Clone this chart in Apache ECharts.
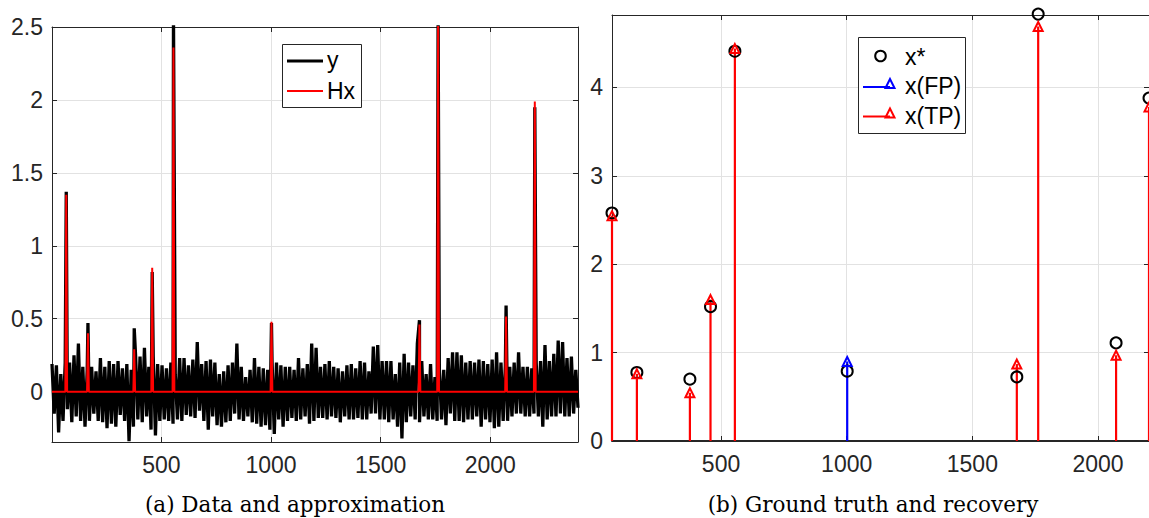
<!DOCTYPE html>
<html><head><meta charset="utf-8">
<script src="https://cdn.jsdelivr.net/npm/echarts@6/dist/echarts.min.js"></script>
<style>html,body{margin:0;padding:0;background:#fff}#c{width:1149px;height:518px}</style>
</head><body><div id="c"></div>
<script>
// ---------- data ----------
const spikePos = [66, 165, 376, 458, 555, 1002, 1677, 1762, 2072, 2203];
const yPeak    = [1.37, 0.47, 0.435, 0.82, 2.6, 0.47, 0.49, 2.6, 0.59, 1.95];
const hxPeak   = [1.35, 0.40, 0.29, 0.85, 2.36, 0.48, 0.46, 2.55, 0.515, 1.99];
// noise envelope of y, one high / one low reading per 20-sample bin
const noiseHi = [0.19,0.18,0.12,0.20,0.20,0.25,0.33,0.17,0.15,0.17,0.14,0.23,0.17,0.21,0.19,0.21,0.16,0.19,0.15,0.24,
0.24,0.30,0.17,0.24,0.19,0.18,0.16,0.20,0.12,0.23,0.23,0.18,0.22,0.34,0.19,0.21,0.22,0.20,0.12,0.14,
0.18,0.20,0.33,0.17,0.10,0.15,0.23,0.17,0.16,0.15,0.20,0.20,0.18,0.17,0.17,0.15,0.23,0.16,0.19,0.33,
0.30,0.17,0.19,0.21,0.17,0.16,0.14,0.18,0.19,0.16,0.21,0.20,0.14,0.31,0.32,0.21,0.21,0.21,0.12,0.20,
0.26,0.20,0.18,0.33,0.21,0.12,0.19,0.10,0.16,0.15,0.23,0.27,0.27,0.25,0.20,0.21,0.20,0.22,0.21,0.19,
0.22,0.27,0.20,0.18,0.17,0.20,0.27,0.17,0.17,0.16,0.20,0.21,0.32,0.21,0.26,0.35,0.34,0.23,0.24,0.15];
const noiseLo = [-0.15,-0.28,-0.20,-0.12,-0.21,-0.17,-0.20,-0.24,-0.20,-0.15,-0.20,-0.21,-0.25,-0.22,-0.24,-0.16,-0.20,-0.34,-0.24,-0.19,
-0.21,-0.17,-0.26,-0.30,-0.20,-0.19,-0.20,-0.22,-0.19,-0.20,-0.16,-0.17,-0.18,-0.13,-0.20,-0.26,-0.17,-0.23,-0.24,-0.21,
-0.20,-0.15,-0.19,-0.20,-0.17,-0.21,-0.22,-0.24,-0.23,-0.26,-0.29,-0.19,-0.24,-0.20,-0.18,-0.20,-0.19,-0.17,-0.22,-0.20,
-0.18,-0.18,-0.19,-0.17,-0.18,-0.21,-0.17,-0.19,-0.19,-0.18,-0.19,-0.19,-0.15,-0.15,-0.19,-0.19,-0.21,-0.19,-0.24,-0.32,
-0.21,-0.17,-0.19,-0.21,-0.17,-0.19,-0.19,-0.20,-0.19,-0.23,-0.15,-0.20,-0.20,-0.21,-0.19,-0.19,-0.17,-0.24,-0.19,-0.21,
-0.25,-0.24,-0.20,-0.20,-0.17,-0.15,-0.15,-0.17,-0.17,-0.15,-0.17,-0.24,-0.19,-0.17,-0.17,-0.15,-0.17,-0.17,-0.15,-0.11];
const nSamples = 2400;
const hxHalfWidth = 4;

const xStarPos = [66, 165, 376, 458, 555, 1002, 1677, 1762, 2072, 2203];
const xStarVal = [2.58, 0.775, 0.70, 1.52, 4.41, 0.79, 0.725, 4.83, 1.11, 3.88];
const tpPos = [66, 165, 376, 458, 555, 1677, 1762, 2072, 2203];
const tpVal = [2.55, 0.76, 0.546, 1.60, 4.44, 0.87, 4.69, 0.97, 3.78];
const fpPos = [1002];
const fpVal = [0.90];

const leftXTicks = [500, 1000, 1500, 2000];
const leftYTicks = [0, 0.5, 1, 1.5, 2, 2.5];
const rightXTicks = [500, 1000, 1500, 2000];
const rightYTicks = [0, 1, 2, 3, 4];
const leftXRange = [1, 2400], leftYRange = [-0.345, 2.5];
const rightXRange = [66, 2203], rightYRange = [0, 4.82];

// ---------- build series data ----------
const noiseSeq = [];
for (let k = 0; k < noiseHi.length; k++) { noiseSeq.push(noiseHi[k], noiseLo[k]); }
const step = (nSamples - 1) / (noiseSeq.length - 1);
const yData = noiseSeq.map((v, i) => [1 + i * step, v]);
spikePos.forEach((p, i) => yData.push([p, yPeak[i]]));
yData.sort((a, b) => a[0] - b[0]);

const hxData = [[1, 0]];
spikePos.forEach((p, i) => { hxData.push([p - hxHalfWidth, 0], [p, hxPeak[i]], [p + hxHalfWidth, 0]); });
hxData.push([nSamples, 0]);

const pairs = (xs, vs) => xs.map((x, i) => [x, vs[i]]);

// ---------- styling ----------
const AX = '#262626', GRIDC = '#e2e2e2', FONT = '"Liberation Sans", Arial, sans-serif';
const fmt = v => String(v);
function xAx(grid, range, ticks, pos, showLabel, lineW) {
  return {
    type: 'value', gridIndex: grid, min: range[0], max: range[1], position: pos,
    axisLine: { show: true, onZero: false, lineStyle: { color: AX, width: lineW || 1 } },
    axisTick: { show: true, inside: true, length: 5, customValues: ticks, lineStyle: { color: AX } },
    axisLabel: { show: showLabel, customValues: ticks, formatter: fmt, fontSize: 23, fontFamily: FONT, color: AX, margin: 11 },
    splitLine: { show: showLabel, lineStyle: { color: GRIDC, width: 1 } }
  };
}
function yAx(grid, range, ticks, pos, showLabel) {
  return {
    type: 'value', gridIndex: grid, min: range[0], max: range[1], position: pos,
    axisLine: { show: true, onZero: false, lineStyle: { color: AX, width: 1 } },
    axisTick: { show: true, inside: true, length: 5, customValues: ticks, lineStyle: { color: AX } },
    axisLabel: { show: showLabel, customValues: ticks, formatter: fmt, fontSize: 23, fontFamily: FONT, color: AX, margin: 9 },
    splitLine: { show: showLabel, lineStyle: { color: GRIDC, width: 1 } }
  };
}
function stem(name, xs, vs, color) {
  return {
    name, type: 'custom', xAxisIndex: 2, yAxisIndex: 2, data: pairs(xs, vs),
    encode: { x: 0, y: 1 },
    renderItem: (params, api) => {
      const p0 = api.coord([api.value(0), 0]);
      const p1 = api.coord([api.value(0), api.value(1)]);
      return { type: 'line', shape: { x1: p0[0], y1: p0[1], x2: p1[0], y2: p1[1] },
               style: { stroke: color, lineWidth: 2.2 } };
    }
  };
}
function tri(name, xs, vs, color) {
  return { name, type: 'scatter', xAxisIndex: 2, yAxisIndex: 2, data: pairs(xs, vs), clip: false,
    symbol: 'triangle', symbolSize: [9, 9],
    itemStyle: { color: 'none', borderColor: color, borderWidth: 2, opacity: 1 } };
}

const legendFont = '23px ' + FONT;
const option = {
  animation: false,
  backgroundColor: '#fff',
  grid: [
    { left: 52, top: 27, width: 526, height: 415 },
    { left: 612, top: 15, width: 538, height: 426 }
  ],
  xAxis: [
    xAx(0, leftXRange, leftXTicks, 'bottom', true),
    xAx(0, leftXRange, leftXTicks, 'top', false),
    xAx(1, rightXRange, rightXTicks, 'bottom', true, 2),
    xAx(1, rightXRange, rightXTicks, 'top', false)
  ],
  yAxis: [
    yAx(0, leftYRange, leftYTicks, 'left', true),
    yAx(0, leftYRange, leftYTicks, 'right', false),
    yAx(1, rightYRange, rightYTicks, 'left', true),
    yAx(1, rightYRange, rightYTicks, 'right', false)
  ],
  series: [
    { name: 'y', type: 'line', xAxisIndex: 0, yAxisIndex: 0, data: yData, symbol: 'none',
      lineStyle: { color: '#000', width: 3.3, join: 'miter', miterLimit: 3 }, itemStyle: { color: '#000' } },
    { name: 'Hx', type: 'line', xAxisIndex: 0, yAxisIndex: 0, data: hxData, symbol: 'none',
      lineStyle: { color: '#ff0000', width: 2 }, itemStyle: { color: '#ff0000' } },
    { name: 'x*', type: 'scatter', xAxisIndex: 2, yAxisIndex: 2, data: pairs(xStarPos, xStarVal), clip: false,
      symbol: 'circle', symbolSize: 11, itemStyle: { color: 'none', borderColor: '#000', borderWidth: 2, opacity: 1 } },
    stem('x(FP)', fpPos, fpVal, '#0000ff'),
    stem('x(TP)', tpPos, tpVal, '#ff0000'),
    tri('x(FP)', fpPos, fpVal, '#0000ff'),
    tri('x(TP)', tpPos, tpVal, '#ff0000')
  ],
  graphic: [
    // legend (a)
    { type: 'rect', z: 100, shape: { x: 282.5, y: 44.5, width: 79, height: 63 }, style: { fill: '#fff', stroke: AX, lineWidth: 1 } },
    { type: 'line', z: 101, shape: { x1: 287, y1: 61, x2: 323, y2: 61 }, style: { stroke: '#000', lineWidth: 3 } },
    { type: 'text', z: 101, x: 327, y: 60, style: { text: 'y', font: legendFont, fill: '#000', verticalAlign: 'middle', align: 'left' } },
    { type: 'line', z: 101, shape: { x1: 287, y1: 91, x2: 323, y2: 91 }, style: { stroke: '#ff0000', lineWidth: 2 } },
    { type: 'text', z: 101, x: 327, y: 91, style: { text: 'Hx', font: legendFont, fill: '#000', verticalAlign: 'middle', align: 'left' } },
    // legend (b)
    { type: 'rect', z: 100, shape: { x: 858.5, y: 37.5, width: 107, height: 96 }, style: { fill: '#fff', stroke: AX, lineWidth: 1 } },
    { type: 'circle', z: 101, shape: { cx: 880.5, cy: 56, r: 5.3 }, style: { fill: 'none', stroke: '#000', lineWidth: 2 } },
    { type: 'text', z: 101, x: 905, y: 57, style: { text: 'x*', font: legendFont, fill: '#000', verticalAlign: 'middle', align: 'left' } },
    { type: 'line', z: 101, shape: { x1: 863, y1: 87, x2: 890, y2: 87 }, style: { stroke: '#0000ff', lineWidth: 2 } },
    { type: 'polygon', z: 101, shape: { points: [[890, 79], [885.5, 88], [894.5, 88]] }, style: { fill: 'none', stroke: '#0000ff', lineWidth: 2 } },
    { type: 'text', z: 101, x: 905, y: 86, style: { text: 'x(FP)', font: legendFont, fill: '#000', verticalAlign: 'middle', align: 'left' } },
    { type: 'line', z: 101, shape: { x1: 863, y1: 116.5, x2: 890, y2: 116.5 }, style: { stroke: '#ff0000', lineWidth: 2 } },
    { type: 'polygon', z: 101, shape: { points: [[890, 108.5], [885.5, 117.5], [894.5, 117.5]] }, style: { fill: 'none', stroke: '#ff0000', lineWidth: 2 } },
    { type: 'text', z: 101, x: 905, y: 116, style: { text: 'x(TP)', font: legendFont, fill: '#000', verticalAlign: 'middle', align: 'left' } },
    // captions
    { type: 'text', x: 295, y: 504, style: { text: '(a) Data and approximation', font: '21.5px "DejaVu Serif", serif', fill: '#000', align: 'center', verticalAlign: 'middle' } },
    { type: 'text', x: 873, y: 504, style: { text: '(b) Ground truth and recovery', font: '21.5px "DejaVu Serif", serif', fill: '#000', align: 'center', verticalAlign: 'middle' } }
  ]
};
const chart = echarts.init(document.getElementById('c'), null, { renderer: 'svg', width: 1149, height: 518 });
chart.setOption(option);
</script></body></html>
